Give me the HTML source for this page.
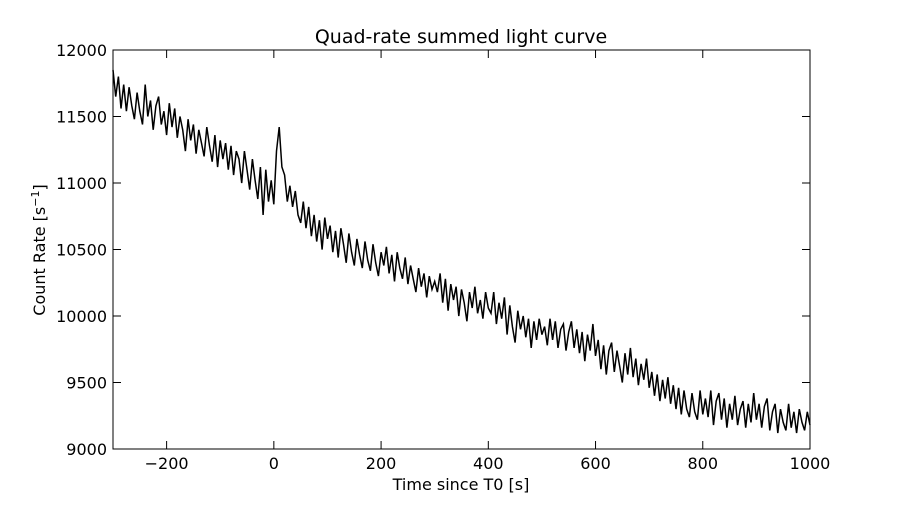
<!DOCTYPE html>
<html><head><meta charset="utf-8"><style>
body{margin:0;background:#fff;}
svg text{font-family:"DejaVu Sans","Liberation Sans",sans-serif;fill:#000;}
</style></head><body>
<svg id="chart" width="900" height="500" xmlns="http://www.w3.org/2000/svg">
<rect width="900" height="500" fill="#fff"/>
<text x="461" y="43" font-size="19" text-anchor="middle">Quad-rate summed light curve</text>
<text x="461" y="490" font-size="16" text-anchor="middle">Time since T0 [s]</text>
<text transform="translate(45,250) rotate(-90)" font-size="16" text-anchor="middle">Count Rate [s<tspan baseline-shift="super" font-size="11">−1</tspan>]</text>
<g id="ticks"></g>
<path id="curve" fill="none" stroke="#000" stroke-width="1.5"/>
<rect x="113" y="50" width="697" height="399" fill="none" stroke="#000" stroke-width="1"/>
</svg>
<script>
const tStart = -300, tStep = 5;
const rates = [11850,11650,11800,11560,11740,11540,11720,11580,11480,11680,11540,11440,11740,11500,11620,11400,11580,11650,11440,11540,11360,
11600,11420,11560,11340,11500,11400,11240,11480,11320,11440,11220,11400,11300,11200,11420,11280,11160,11360,11120,11320,
11180,11300,11100,11280,11060,11240,11180,11000,11240,11100,10950,11180,11020,10880,11120,10760,11100,10860,11020,10840,
11240,11420,11120,11060,10860,10980,10820,10940,10760,10700,10860,10660,10820,10600,10760,10560,10720,10500,10740,10580,
10680,10480,10640,10440,10660,10540,10400,10620,10480,10380,10580,10460,10360,10560,10420,10340,10540,10400,10300,10480,
10380,10520,10320,10460,10260,10480,10360,10280,10440,10240,10380,10280,10180,10360,10220,10320,10140,10300,10200,10260,
10180,10320,10100,10280,10040,10240,10120,10220,10000,10200,10100,9960,10180,10060,10220,10020,10120,9980,10180,10060,
10020,10180,9940,10100,9980,10140,9860,10080,9920,9800,10040,9900,10000,9840,9980,9760,9960,9820,9980,9860,
9920,9780,9980,9820,9960,9760,9900,9940,9740,9880,9960,9760,9900,9720,9880,9660,9860,9740,9940,9700,
9820,9600,9780,9560,9740,9800,9580,9740,9620,9500,9720,9560,9760,9540,9680,9480,9640,9520,9680,9460,
9580,9400,9560,9360,9520,9380,9540,9340,9480,9300,9460,9260,9440,9300,9240,9420,9280,9220,9440,9260,
9380,9240,9440,9180,9360,9420,9220,9380,9160,9340,9220,9400,9180,9300,9360,9160,9340,9200,9420,9220,
9340,9160,9320,9380,9140,9280,9340,9120,9300,9200,9140,9340,9160,9280,9120,9300,9200,9140,9280,9180];
const xTicks = [-200,0,200,400,600,800,1000];
const xTickLabels = ["\u2212200","0","200","400","600","800","1000"];
const yTicks = [9000,9500,10000,10500,11000,11500,12000];
const yTickLabels = ["9000","9500","10000","10500","11000","11500","12000"];
const L=113,R=810,T=50,B=449;
const xs = v => L + (v - (-300)) / 1300 * (R - L);
const ys = v => B - (v - 9000) / 3000 * (B - T);
let d = "";
rates.forEach((r,i)=>{ d += (i?"L":"M") + xs(tStart+i*tStep).toFixed(1) + "," + ys(r).toFixed(1); });
document.getElementById('curve').setAttribute('d', d);
const g = document.getElementById('ticks');
const NS="http://www.w3.org/2000/svg";
function mk(tag, attrs){const e=document.createElementNS(NS,tag);for(const k in attrs)e.setAttribute(k,attrs[k]);g.appendChild(e);return e;}
xTicks.forEach((v,i)=>{
  const x=xs(v);
  const t1=mk('line',{x1:x,x2:x,y1:B,y2:B-8,stroke:'#000'});
  
  
  mk('line',{x1:x,x2:x,y1:T,y2:T+8,stroke:'#000'});
  const tx=mk('text',{x:x,y:B+20,'font-size':16,'text-anchor':'middle'});
  tx.textContent=xTickLabels[i];
  
  
});
yTicks.forEach((v,i)=>{
  const y=ys(v);
  const t1=mk('line',{x1:L,x2:L+8,y1:y,y2:y,stroke:'#000'});
  
  
  mk('line',{x1:R,x2:R-8,y1:y,y2:y,stroke:'#000'});
  const tx=mk('text',{x:L-6,y:y+6,'font-size':16,'text-anchor':'end'});
  tx.textContent=yTickLabels[i];
  
  
});
</script>
</body></html>
